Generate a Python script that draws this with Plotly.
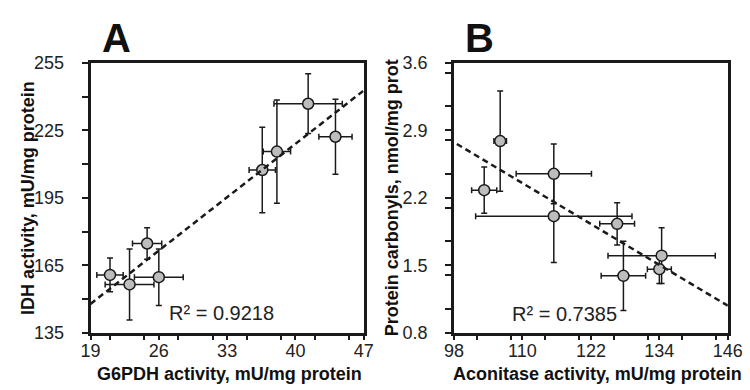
import plotly.graph_objects as go

# ---- Panel A data: G6PDH vs IDH ----
a_x = [41.3, 44.1, 38.1, 36.6, 24.8, 21.0, 23.0, 26.0]
a_y = [236.9, 222.2, 215.6, 207.4, 174.7, 160.7, 156.5, 159.7]
a_xerr = [3.5, 1.7, 1.4, 1.35, 1.5, 1.35, 2.5, 2.5]
a_yerr = [13.3, 16.7, 23.0, 19.0, 7.0, 7.5, 15.8, 12.6]
a_trend_x = [19, 47]
a_trend_y = [147.8, 242.8]
a_r2 = "R² = 0.9218"

# ---- Panel B data: Aconitase vs protein carbonyls ----
b_x = [106.1, 103.3, 115.5, 115.5, 126.6, 127.7, 134.4, 134.0]
b_y = [2.79, 2.28, 2.45, 2.01, 1.93, 1.39, 1.60, 1.46]
b_xerr = [1.1, 2.2, 6.6, 13.7, 3.05, 3.9, 9.4, 2.1]
b_yerr = [0.52, 0.24, 0.31, 0.48, 0.22, 0.36, 0.29, 0.15]
b_trend_x = [98.5, 146]
b_trend_y = [2.76, 1.08]
b_r2 = "R² = 0.7385"

FONT = "Liberation Sans, Arial, sans-serif"
INK = "#1a1a1a"
W, H = 750, 390

fig = go.Figure()


def add_panel(xs, ys, xe, ye, tx, ty, xa, ya):
    fig.add_trace(go.Scatter(
        x=xs, y=ys, mode="markers", xaxis=xa, yaxis=ya,
        marker=dict(size=11, color="#bdbdbd", line=dict(color=INK, width=1.5)),
        error_x=dict(type="data", array=xe, visible=True, color=INK, thickness=1.5, width=3),
        error_y=dict(type="data", array=ye, visible=True, color=INK, thickness=1.5, width=3),
        showlegend=False, hoverinfo="x+y"))
    fig.add_trace(go.Scatter(
        x=tx, y=ty, mode="lines", xaxis=xa, yaxis=ya,
        line=dict(color=INK, width=2.5, dash="6px,4px"),
        showlegend=False, hoverinfo="skip"))


add_panel(a_x, a_y, a_xerr, a_yerr, a_trend_x, a_trend_y, "x", "y")
add_panel(b_x, b_y, b_xerr, b_yerr, b_trend_x, b_trend_y, "x2", "y2")

top = 1 - 47.5 / H
bot = 1 - 331.7 / H

axis_common = dict(
    showline=True, linecolor=INK, linewidth=2.5, mirror=True,
    showgrid=False, zeroline=False, ticks="outside", ticklen=5, tickwidth=1.8,
    tickcolor=INK, tickfont=dict(family=FONT, size=18, color="#222"),
    fixedrange=True,
)

fig.update_layout(
    width=W, height=H,
    margin=dict(l=0, r=0, t=0, b=0),
    paper_bgcolor="white", plot_bgcolor="white",
    font=dict(family=FONT, color="#222"),
    xaxis=dict(axis_common, domain=[75 / W, 357.7 / W], range=[19, 47], tick0=19, dtick=7,
               minor=dict(dtick=3.5, ticks="outside", ticklen=5, tickwidth=1.8, tickcolor=INK),
               anchor="y", ticklabelstandoff=-5),
    yaxis=dict(axis_common, domain=[bot, top], range=[135, 255], tick0=135, dtick=30,
               minor=dict(dtick=15, ticks="outside", ticklen=6, tickwidth=1.8, tickcolor=INK),
               anchor="x", ticklen=6, ticklabelstandoff=14),
    xaxis2=dict(axis_common, domain=[451 / W, 734.3 / W], range=[98, 146], tick0=98, dtick=12,
                minor=dict(dtick=6, ticks="outside", ticklen=5, tickwidth=1.8, tickcolor=INK),
                anchor="y2", ticklabelstandoff=-5),
    yaxis2=dict(axis_common, domain=[bot, top], range=[0.8, 3.6], tick0=0.8, dtick=0.7,
                tickformat=".1f",
                minor=dict(dtick=0.35, ticks="outside", ticklen=6, tickwidth=1.8, tickcolor=INK),
                anchor="x2", ticklen=6, ticklabelstandoff=14),
)


def txt(x, y, s, size, bold=False, angle=0):
    fig.add_annotation(
        x=x / W, y=1 - y / H, xref="paper", yref="paper", text=f"<b>{s}</b>" if bold else s,
        showarrow=False, textangle=angle, xanchor="center", yanchor="middle",
        font=dict(family=FONT, size=size, color="#111"))


# panel letters
txt(101.5, 21, "A", 40, bold=True)
txt(477, 21, "B", 40, bold=True)
# axis titles
txt(219, 375, "G6PDH activity, mU/mg protein", 18, bold=True)
txt(11, 190, "IDH activity, mU/mg protein", 18, bold=True, angle=-90)
txt(599, 375, "Aconitase activity, mU/mg protein", 18, bold=True)
txt(387, 190, "Protein carbonyls, nmol/mg prot", 18, bold=True, angle=-90)

# R² labels in data coordinates
fig.add_annotation(x=32.4, y=143.8, xref="x", yref="y", text=a_r2, showarrow=False,
                   font=dict(family=FONT, size=20, color="#222"))
fig.add_annotation(x=117.3, y=0.99, xref="x2", yref="y2", text=b_r2, showarrow=False,
                   font=dict(family=FONT, size=20, color="#222"))

fig.write_html("out.html")
